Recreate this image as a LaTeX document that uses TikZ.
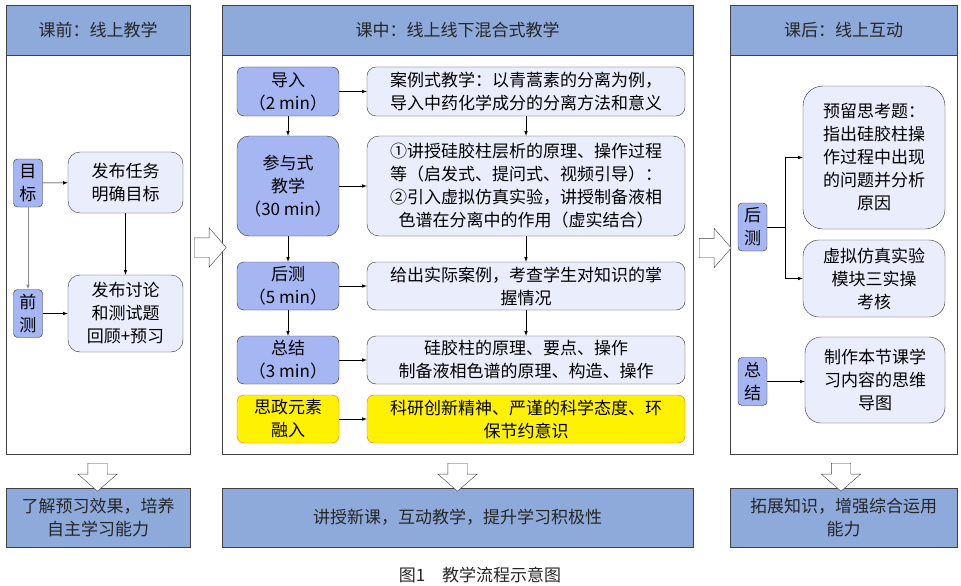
\documentclass[tikz,border=0pt]{standalone}
\usepackage{fontspec}
\setmainfont{Noto Sans CJK SC}
\usepackage{xcolor}
\usepackage{tikz}
\usetikzlibrary{shapes,arrows,positioning}

\definecolor{headblue}{RGB}{142,170,219}
\definecolor{tagblue}{RGB}{166,182,242}
\definecolor{paleblue}{RGB}{234,237,251}
\definecolor{ideoline}{RGB}{240,110,30}

\begin{document}
\begin{tikzpicture}[x=1pt, y=-1pt,
    font=\fontsize{17}{23}\selectfont,
    header/.style={rectangle, draw=black!75, fill=headblue, text=black!85, minimum height=50},
    panel/.style={rectangle, draw=black!75, fill=white, minimum height=399},
    result/.style={rectangle, draw=black!75, fill=headblue, text=black!85, align=center, minimum height=59},
    phase/.style={rectangle, rounded corners=7, draw=black!80, fill=tagblue, align=center, minimum width=102},
    tag/.style={rectangle, rounded corners=4, draw=black!80, fill=tagblue, align=center, inner sep=1pt, minimum width=29, minimum height=48},
    content/.style={rectangle, rounded corners=9, draw=black!80, fill=paleblue, align=center},
    ideo/.style={rectangle, rounded corners=7, draw=ideoline, fill=yellow, align=center, minimum height=48},
    arrow/.style={->, >=latex, semithick},
    bigarrow/.style={single arrow, draw=black!75, fill=white, inner sep=9.5pt, minimum width=39, minimum height=32, single arrow head extend=10pt, single arrow tip angle=98}
]
\useasboundingbox (0,0) rectangle (961,586);

% Before class
\node[header, minimum width=184] (lhead) at (98,30) {课前：线上教学};
\node[panel, minimum width=184] (lbody) at (98,254.5) {};
\node[result, minimum width=184] (lres) at (98,517.5) {了解预习效果，培养\\自主学习能力};

\node[tag] (lgoal) at (28,183) {目\\标};
\node[content, rounded corners=12, minimum width=115, minimum height=61] (ltask) at (125.5,182.5) {发布任务\\明确目标};
\node[tag] (lpre) at (28,313.5) {前\\测};
\node[content, rounded corners=12, minimum width=115, minimum height=77] (ldisc) at (125.5,313.5) {发布讨论\\和测试题\\回顾+预习};

\draw[arrow] (lgoal) -- (ltask);
\draw[arrow, black!45] (lgoal) -- (lpre);
\draw[arrow] (ltask) -- (ldisc);
\draw[arrow] (lpre) -- (ldisc);

% In class
\node[header, minimum width=471] (mhead) at (457.5,30) {课中：线上线下混合式教学};
\node[panel, minimum width=471] (mbody) at (457.5,254.5) {};
\node[result, minimum width=471] (mres) at (457.5,517.5) {讲授新课，互动教学，提升学习积极性};

\node[phase, minimum height=49] (intro) at (288,91.5) {导入\\（2 min）};
\node[content, minimum width=318, minimum height=49] (introtxt) at (526,91.5) {案例式教学：以青蒿素的分离为例，\\导入中药化学成分的分离方法和意义};
\node[phase, rounded corners=12, minimum height=100] (part) at (288,186) {参与式\\教学\\（30 min）};
\node[content, rounded corners=12, minimum width=318, minimum height=100] (parttxt) at (526,186) {①讲授硅胶柱层析的原理、操作过程\\等（启发式、提问式、视频引导）：\\②引入虚拟仿真实验，讲授制备液相\\色谱在分离中的作用（虚实结合）};
\node[phase, minimum height=48] (post) at (288,286) {后测\\（5 min）};
\node[content, minimum width=318, minimum height=48] (posttxt) at (526,286) {给出实际案例，考查学生对知识的掌\\握情况};
\node[phase, minimum height=48] (summ) at (288,360) {总结\\（3 min）};
\node[content, minimum width=318, minimum height=48] (summtxt) at (526,360) {硅胶柱的原理、要点、操作\\制备液相色谱的原理、构造、操作};
\node[ideo, minimum width=102] (ideo) at (288,419) {思政元素\\融入};
\node[ideo, minimum width=318] (ideotxt) at (526,419) {科研创新精神、严谨的科学态度、环\\保节约意识};

\draw[arrow] (intro) -- (part);
\draw[arrow] (part) -- (post);
\draw[arrow] (post) -- (summ);
\draw[arrow] (introtxt) -- (parttxt);
\draw[arrow] (parttxt) -- (posttxt);
\draw[arrow] (posttxt) -- (summtxt);
\draw[arrow] (intro) -- (introtxt);
\draw[arrow] (part) -- (parttxt);
\draw[arrow] (post) -- (posttxt);
\draw[arrow] (summ) -- (summtxt);
\draw[arrow] (ideo) -- (ideotxt);

% After class
\node[header, minimum width=227] (rhead) at (843.5,30) {课后：线上互动};
\node[panel, minimum width=227] (rbody) at (843.5,254.5) {};
\node[result, minimum width=227] (rres) at (843.5,517.5) {拓展知识，增强综合运用\\能力};

\node[tag] (rpost) at (752.5,227) {后\\测};
\node[content, rounded corners=20, minimum width=142, minimum height=143] (rthink) at (874,157.5) {预留思考题：\\指出硅胶柱操\\作过程中出现\\的问题并分析\\原因};
\node[content, rounded corners=16, minimum width=142, minimum height=77] (rvirt) at (874,278.5) {虚拟仿真实验\\模块三实操\\考核};
\node[tag] (rsumm) at (752.5,381.5) {总\\结};
\node[content, rounded corners=16, minimum width=140, minimum height=86] (rmap) at (875,380) {制作本节课学\\习内容的思维\\导图};

\draw[arrow] (rpost.east) -- ++(18,0) |- (rthink.west);
\draw[arrow] (rpost.east) -- ++(18,0) |- (rvirt.west);
\draw[arrow] (rsumm.east) -- (rsumm.east -| rmap.west);

% Hollow arrows
\node[bigarrow] (lm) at (206,247.5) {};
\node[bigarrow] (mr) at (711,248) {};
\node[bigarrow, shape border rotate=270, minimum height=28] (ldown) at (97.5,473) {};
\node[bigarrow, shape border rotate=270, minimum height=28] (mdown) at (457.5,473) {};
\node[bigarrow, shape border rotate=270, minimum height=28] (rdown) at (841,473) {};

% Caption
\node[text=black!85] (caption) at (480,575) {图1\quad 教学流程示意图};

\end{tikzpicture}
\end{document}
